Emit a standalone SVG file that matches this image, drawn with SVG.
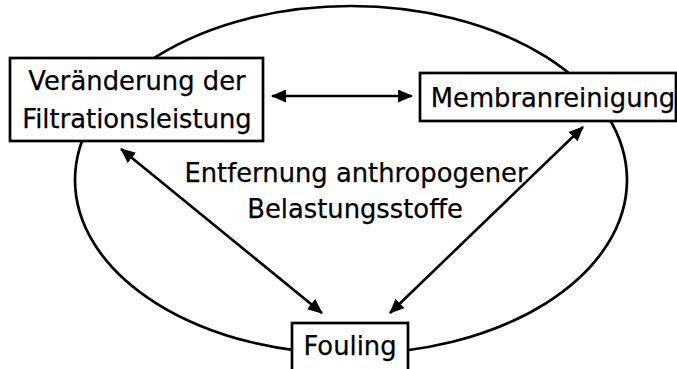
<svg xmlns="http://www.w3.org/2000/svg" width="677" height="369" viewBox="0 0 677 369">
<style>
.box{fill:#fff;stroke:#000;stroke-width:2.7}
.t{font-family:"DejaVu Sans",Verdana,sans-serif;font-size:25.8px;fill:#000;stroke:#000;stroke-width:0.25;text-anchor:middle}
.c{stroke:#000;stroke-width:2.6;fill:none}
</style>
<defs>
<marker id="ah" viewBox="0 0 15 13" refX="14" refY="6.5" markerWidth="15" markerHeight="13" markerUnits="userSpaceOnUse" orient="auto-start-reverse">
<path d="M0,0 L15,6.5 L0,13 Z" fill="#000"/>
</marker>
</defs>
<ellipse cx="351" cy="180" rx="276" ry="174" fill="none" stroke="#000" stroke-width="2.7"/>
<g id="connectors">
<line class="c" x1="272" y1="96" x2="412" y2="96" marker-start="url(#ah)" marker-end="url(#ah)"/>
<line class="c" x1="121" y1="149" x2="322" y2="313" marker-start="url(#ah)" marker-end="url(#ah)"/>
<line class="c" x1="583" y1="127" x2="390" y2="313" marker-start="url(#ah)" marker-end="url(#ah)"/>
</g>
<g id="filtration">
<rect class="box" x="10" y="58" width="253" height="83"/>
<text class="t" x="137" y="90">Veränderung der</text>
<text class="t" x="137" y="128">Filtrationsleistung</text>
</g>
<g id="membran">
<rect class="box" x="420" y="73" width="256" height="48"/>
<text class="t" x="553" y="107">Membranreinigung</text>
</g>
<g id="fouling">
<rect class="box" x="292" y="323" width="116" height="56"/>
<text class="t" x="350" y="355">Fouling</text>
</g>
<g id="center">
<text class="t" x="356" y="182">Entfernung anthropogener</text>
<text class="t" x="355" y="218">Belastungsstoffe</text>
</g>
</svg>
